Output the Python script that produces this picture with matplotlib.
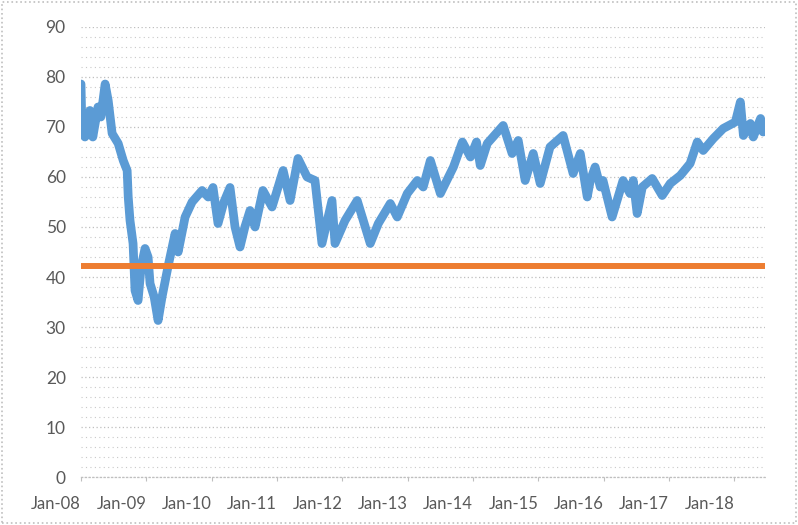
import numpy as np
import pandas as pd
import matplotlib.pyplot as plt
from matplotlib.patches import Rectangle

# values
dates = ['2008-01-01', '2008-01-06', '2008-01-23', '2008-02-20', '2008-03-07', '2008-04-05',
         '2008-04-21', '2008-05-15', '2008-06-01', '2008-06-23', '2008-07-27', '2008-08-24',
         '2008-09-15', '2008-09-21', '2008-10-01', '2008-10-18', '2008-10-29', '2008-11-15',
         '2008-12-02', '2008-12-24', '2009-01-10', '2009-01-21', '2009-02-13', '2009-03-07',
         '2009-03-29', '2009-05-01', '2009-06-10', '2009-06-27', '2009-08-05', '2009-09-13',
         '2009-11-08', '2009-12-12', '2010-01-08', '2010-02-05', '2010-03-10', '2010-04-13',
         '2010-05-11', '2010-06-08', '2010-07-05', '2010-08-03', '2010-08-31', '2010-10-14',
         '2010-12-04', '2011-02-04', '2011-03-15', '2011-04-28', '2011-06-18', '2011-08-01',
         '2011-09-09', '2011-11-04', '2011-11-21', '2012-01-16', '2012-03-24', '2012-06-05',
         '2012-07-20', '2012-09-25', '2012-11-03', '2012-12-29', '2013-02-23', '2013-03-28',
         '2013-05-07', '2013-07-02', '2013-09-13', '2013-11-02', '2013-12-17', '2014-01-20',
         '2014-02-10', '2014-03-21', '2014-06-18', '2014-08-07', '2014-09-10', '2014-10-19',
         '2014-12-03', '2015-01-11', '2015-03-07', '2015-05-19', '2015-07-14', '2015-08-23',
         '2015-10-01', '2015-10-18', '2015-11-14', '2015-12-13', '2015-12-28', '2016-02-17',
         '2016-04-18', '2016-05-27', '2016-06-14', '2016-07-06', '2016-08-04', '2016-09-28',
         '2016-11-23', '2017-01-07', '2017-03-04', '2017-04-28', '2017-06-07', '2017-07-10',
         '2017-09-05', '2017-10-30', '2018-01-06', '2018-02-03', '2018-02-20', '2018-03-31',
         '2018-04-16', '2018-05-27', '2018-06-10']
values = [78.6, 70, 68, 73.3, 68, 74,
          72, 78.6, 75.3, 68.7, 66.7, 63.3,
          61.3, 56, 51.3, 46.7, 37.3, 35.3,
          42, 45.7, 44, 38.7, 36, 31.3,
          36, 42, 48.7, 45, 52, 55,
          57.3, 56, 57.9, 50.7, 55, 57.9,
          50, 46, 50, 53.3, 50, 57.3,
          54, 61.3, 55.3, 63.7, 60, 59.3,
          46.7, 55.3, 46.7, 51.3, 55.3, 46.7,
          50.7, 54.7, 52, 56.7, 59.3, 58,
          63.3, 56.7, 62, 67, 64, 67,
          62.3, 66.7, 70.3, 64.7, 67.3, 59.3,
          64.7, 58.7, 66, 68.3, 60.7, 64.7,
          56, 59.3, 62, 58, 59.3, 52,
          59.3, 56.7, 59.3, 52.7, 58, 59.7,
          56.3, 58.7, 60.3, 62.7, 67, 65.3,
          67.7, 69.7, 71, 75, 68.3, 70.7,
          68, 71.7, 69]
threshold = 42.3
year_ticks = ['2008', '2009', '2010', '2011', '2012', '2013',
              '2014', '2015', '2016', '2017', '2018']

df = pd.DataFrame({'date': pd.to_datetime(dates), 'value': values})

plt.rcParams['font.family'] = ['Lato', 'DejaVu Sans']

fig = plt.figure(figsize=(7.98, 5.25), dpi=100)
ax = fig.add_axes([0.1015, 0.0914, 0.857, 0.8572])

ax.plot(df['date'], df['value'], color='#5B9BD5', linewidth=6.3,
        solid_joinstyle='round', solid_capstyle='round', zorder=3)
ax.axhline(threshold, color='#ED7D31', linewidth=4.3, zorder=4)

ax.set_ylim(0, 90)
ax.set_xlim(pd.Timestamp('2008-01-01'), pd.Timestamp('2018-06-20'))

ax.set_yticks(np.arange(0, 91, 10))
ax.set_yticks(np.arange(0, 91, 2), minor=True)
ax.grid(which='major', axis='y', color='#BFBFBF', linestyle=(0, (1, 2)), linewidth=0.9)
ax.grid(which='minor', axis='y', color='#C8C8C8', linestyle=(0, (1, 3)), linewidth=0.8)

xt = [pd.Timestamp(y + '-01-01') for y in year_ticks]
ax.set_xticks(xt)
ax.set_xticklabels(['Jan-' + y[2:] for y in year_ticks], ha='right')
ax.tick_params(axis='x', length=3, color='#BFBFBF', labelsize=12,
               labelcolor='#595959', pad=11)
ax.tick_params(axis='y', which='both', length=0, labelsize=12.5,
               labelcolor='#595959', pad=11)

for s in ['top', 'right', 'left']:
    ax.spines[s].set_visible(False)
ax.spines['bottom'].set_color('#BFBFBF')
ax.spines['bottom'].set_linestyle((0, (1, 2)))
ax.spines['bottom'].set_linewidth(0.9)

# dotted frame round the whole picture
fig.patches.append(Rectangle((0.002, 0.003), 0.996, 0.994, transform=fig.transFigure,
                             fill=False, edgecolor='#BFBFBF', linestyle=':', linewidth=1.2))

plt.savefig('out.png', dpi=100)
